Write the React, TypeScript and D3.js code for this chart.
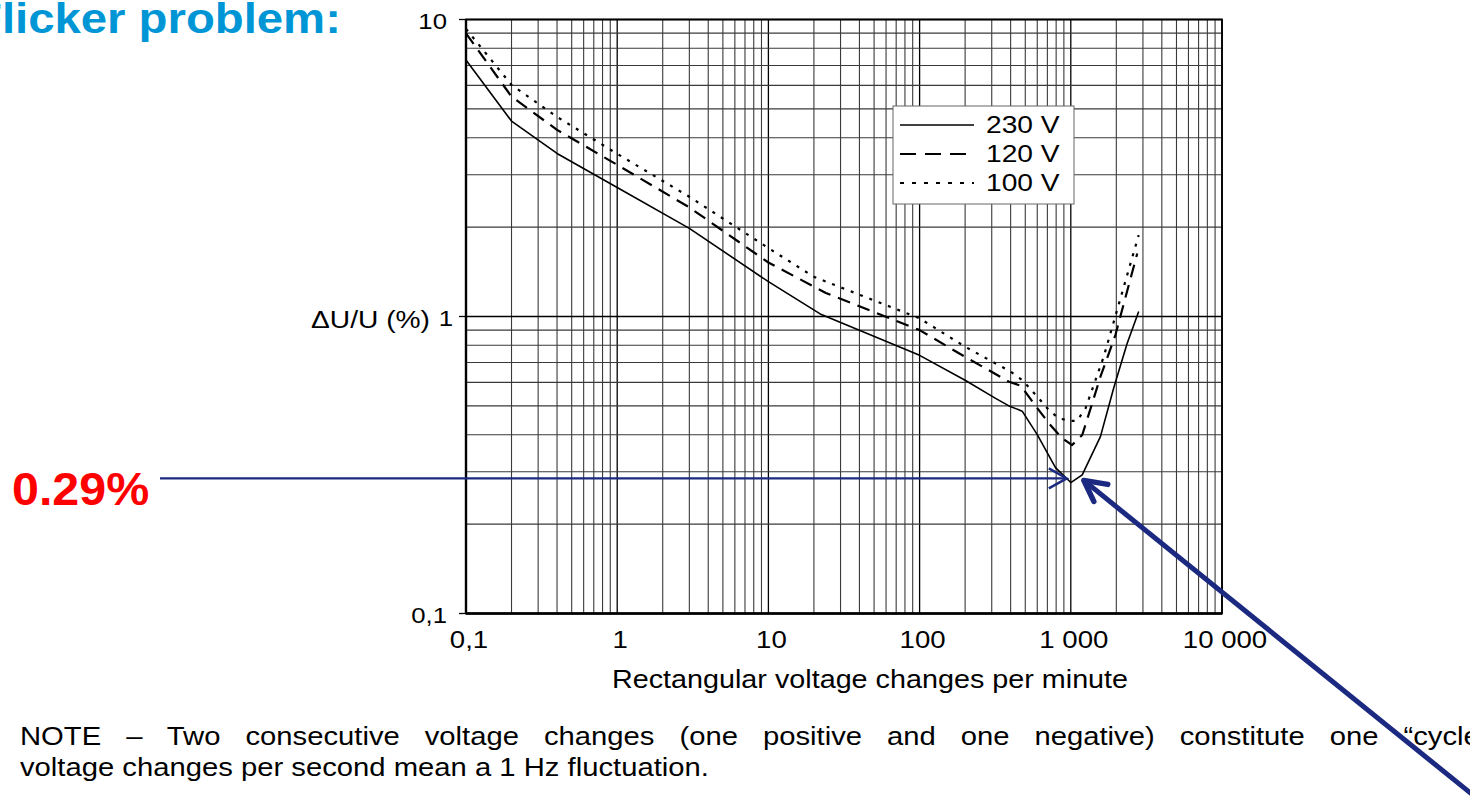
import React from "react";
import * as d3 from "d3";

const xTickValues = [0.1, 1, 10, 100, 1000, 10000];
const xTickLabels = ["0,1", "1", "10", "100", "1 000", "10 000"];
const yTickValues = [10, 1, 0.1];
const yTickLabels = ["10", "1", "0,1"];

const x230 = [0.1, 0.2, 0.4, 1, 3, 10, 22, 100, 200, 318, 390, 477, 600, 792, 1000, 1190, 1570, 1920, 2355, 2812];
const y230 = [7.3, 4.55, 3.54, 2.72, 1.98, 1.31, 1.02, 0.74, 0.61, 0.53, 0.5, 0.48, 0.4, 0.31, 0.276, 0.293, 0.394, 0.573, 0.81, 1.04];

const x120 = [0.1, 0.2, 0.4, 1, 3, 10, 24, 100, 182, 390, 466, 585, 716, 877, 1020, 1190, 1385, 1570, 1972, 2750];
const y120 = [8.98, 5.5, 4.25, 3.24, 2.33, 1.52, 1.2, 0.9, 0.752, 0.603, 0.585, 0.5, 0.437, 0.389, 0.369, 0.399, 0.51, 0.627, 0.866, 1.63];

const x100 = [0.1, 0.2, 0.4, 1, 3, 10, 20, 100, 200, 400, 477, 615, 716, 833, 1000, 1100, 1250, 1651, 2023, 2812];
const y100 = [9.3, 6.02, 4.7, 3.53, 2.53, 1.7, 1.36, 0.986, 0.791, 0.652, 0.611, 0.53, 0.484, 0.454, 0.445, 0.445, 0.49, 0.732, 1.05, 1.88];

const seriesNames = ["230 V", "120 V", "100 V"];
const markedValue = 0.285;
const markedX = 1000;

const noteLine1 = ["NOTE", "–", "Two", "consecutive", "voltage", "changes", "(one", "positive", "and", "one", "negative)", "constitute", "one", "“cycle”."];
const noteLine2 = "voltage changes per second mean a 1 Hz fluctuation.";

const FONT = "'Liberation Sans', Arial, sans-serif";
const SX = 1.15;

function T(props: { x: number; y: number; size: number; anchor?: string; weight?: string; fill?: string; sx?: number; ws?: number; children: React.ReactNode }) {
  const { x, y, size, anchor, weight, fill, sx, ws, children } = props;
  return (
    <text
      transform={`translate(${x},${y}) scale(${sx ?? SX},1)`}
      fontSize={size}
      textAnchor={anchor || "start"}
      fontWeight={weight || "normal"}
      fill={fill || "#000"}
      wordSpacing={ws}
    >
      {children}
    </text>
  );
}

export default function App() {
  const W = 1470, H = 800;
  const x = d3.scaleLog().domain([0.1, 10000]).range([466, 1222]);
  const y = d3.scaleLog().domain([0.1, 10]).range([613.5, 19.5]);

  const gridX: number[] = [];
  for (let e = -1; e < 4; e++) for (let k = 1; k <= 9; k++) gridX.push(k * Math.pow(10, e));
  gridX.push(10000);
  const gridY: number[] = [];
  for (let e = -1; e < 1; e++) for (let k = 1; k <= 9; k++) gridY.push(k * Math.pow(10, e));
  gridY.push(10);

  const line = d3.line<[number, number]>().x((d) => x(d[0])).y((d) => y(d[1]));
  const zip = (a: number[], b: number[]) => a.map((v, i) => [v, b[i]] as [number, number]);
  const series = [
    { d: zip(x230, y230), dash: null, w: 1.6 },
    { d: zip(x120, y120), dash: "13,8", w: 2.2 },
    { d: zip(x100, y100), dash: "3,7", w: 2.2 },
  ];

  const isMajor = (v: number) => Math.abs(Math.log10(v) - Math.round(Math.log10(v))) < 1e-9;

  const ay = y(markedValue);
  const ax = x(markedX) - 4;

  const tipX = x(markedX) + 13, tipY = ay + 2;
  const slope = 0.8085;
  const endX = 1490, endY = tipY + (endX - tipX) * slope;

  return (
    <svg width={W} height={H} style={{ display: "block", position: "absolute", left: 0, top: 0, background: "#fff" }} fontFamily={FONT}>
      <rect x={0} y={0} width={W} height={H} fill="#fff" />
      <T x={-27} y={33} size={43} sx={1.1} weight="bold" fill="#0096D6">Flicker problem:</T>

      {/* grid */}
      {gridX.map((v, i) => (
        <line key={"gx" + i} x1={x(v)} x2={x(v)} y1={y(10)} y2={y(0.1)} stroke={isMajor(v) ? "#000" : "#3a3a3a"} strokeWidth={isMajor(v) ? 1.3 : 1.1} />
      ))}
      {gridY.map((v, i) => (
        <line key={"gy" + i} x1={x(0.1)} x2={x(10000)} y1={y(v)} y2={y(v)} stroke={isMajor(v) ? "#000" : "#3a3a3a"} strokeWidth={isMajor(v) ? 1.3 : 1.1} />
      ))}
      <rect x={x(0.1)} y={y(10)} width={x(10000) - x(0.1)} height={y(0.1) - y(10)} fill="none" stroke="#000" strokeWidth={1.8} />
      <line x1={x(0.1)} x2={x(0.1)} y1={y(10)} y2={y(0.1)} stroke="#000" strokeWidth={2.4} />
      <line x1={x(0.1)} x2={x(10000)} y1={y(0.1)} y2={y(0.1)} stroke="#000" strokeWidth={2.4} />

      {/* y ticks */}
      {yTickValues.map((v, i) => (
        <g key={"yt" + i}>
          <line x1={x(0.1) - 7} x2={x(0.1)} y1={y(v)} y2={y(v)} stroke="#000" strokeWidth={1.3} />
          <T x={v === 1 ? 453 : 447} y={y(v) + 9} size={23} anchor="end" sx={1.12}>{yTickLabels[i]}</T>
        </g>
      ))}
      <T x={430} y={y(1) + 11} size={24.5} anchor="end">ΔU/U (%)</T>

      {/* x ticks */}
      {xTickValues.map((v, i) => (
        <T key={"xt" + i} x={x(v) + 3} y={648} size={24} anchor="middle">{xTickLabels[i]}</T>
      ))}
      <T x={870} y={688} size={25} anchor="middle">Rectangular voltage changes per minute</T>

      {/* curves */}
      {series.map((s, i) => (
        <path key={"s" + i} d={line(s.d) || ""} fill="none" stroke="#000" strokeWidth={s.w} strokeDasharray={s.dash || undefined} strokeLinejoin="round" />
      ))}

      {/* legend */}
      <rect x={893} y={106} width={181} height={98} fill="#fff" stroke="#666" strokeWidth={1} />
      {seriesNames.map((n, i) => (
        <g key={"lg" + i}>
          <line x1={900} x2={974} y1={125 + i * 29} y2={125 + i * 29} stroke="#000" strokeWidth={series[i].w} strokeDasharray={i === 1 ? "16,9" : i === 2 ? "4,8" : undefined} />
          <T x={986} y={133 + i * 29} size={24.5}>{n}</T>
        </g>
      ))}

      {/* annotation */}
      <T x={12} y={505} size={47} sx={1.03} weight="bold" fill="#FF0000">0.29%</T>
      <line x1={160} x2={ax} y1={ay} y2={ay} stroke="#1B2A80" strokeWidth={2.4} />
      <polyline points={`${ax - 18},${ay - 10} ${ax},${ay} ${ax - 18},${ay + 10}`} fill="none" stroke="#1B2A80" strokeWidth={2.4} />
      <line x1={tipX} y1={tipY} x2={endX} y2={endY} stroke="#1B2A80" strokeWidth={5} />
      <polyline points={`${tipX + 24},${tipY + 4} ${tipX},${tipY} ${tipX + 10},${tipY + 21}`} fill="none" stroke="#1B2A80" strokeWidth={5.5} strokeLinecap="round" strokeLinejoin="round" />

      {/* note */}
      <T x={20} y={745} size={25} sx={1.17} ws={14.4}>{noteLine1.join(" ")}</T>
      <T x={20} y={776} size={25} sx={1.17}>{noteLine2}</T>
    </svg>
  );
}
